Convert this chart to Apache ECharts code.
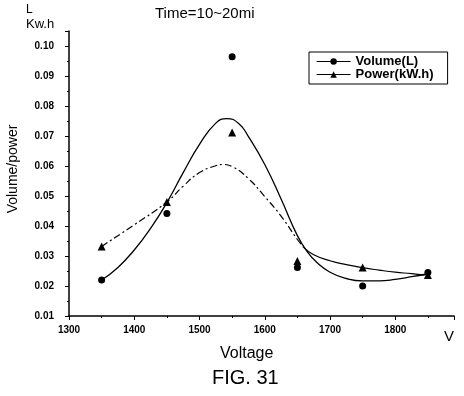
<!DOCTYPE html>
<html>
<head>
<meta charset="utf-8">
<script src="https://cdn.jsdelivr.net/npm/echarts@6/dist/echarts.min.js"></script>
<style>
html,body{margin:0;padding:0;background:#fff;}
#c{width:464px;height:396px;}
</style>
</head>
<body>
<div id="c"></div>
<script>
// ---- data ----
var voltage = [1350, 1450, 1550, 1650, 1750, 1850];
var volume  = [0.0220, 0.0442, 0.0964, 0.0262, 0.0200, 0.0245];
var power   = [0.0332, 0.0480, 0.0712, 0.0283, 0.0262, 0.0237];

// fitted curves
var volFitX = [1350, 1375, 1400, 1425, 1450, 1475, 1500, 1525, 1542, 1560, 1575, 1600, 1625, 1650, 1665, 1680, 1700, 1725, 1750, 1775, 1800, 1825, 1848];
var volFitY = [0.0220, 0.0262, 0.0320, 0.0392, 0.0478, 0.0578, 0.0672, 0.0743, 0.0758, 0.0742, 0.0698, 0.0605, 0.0490, 0.0368, 0.0315, 0.0278, 0.0246, 0.0225, 0.0217, 0.0217, 0.0222, 0.0231, 0.0240];
var powFitX = [1350, 1400, 1450, 1475, 1500, 1525, 1535, 1550, 1575, 1600, 1625, 1650, 1660, 1675, 1700, 1725, 1750, 1775, 1800, 1825, 1845];
var powFitY = [0.0332, 0.0404, 0.0480, 0.0533, 0.0578, 0.0601, 0.0605, 0.0598, 0.0558, 0.0498, 0.0433, 0.0355, 0.0328, 0.0304, 0.0284, 0.0271, 0.0261, 0.0253, 0.0246, 0.0241, 0.0236];
var powDashEnd = 12; // index where the dashed part ends

var xTickLabels = ['1300', '1400', '1500', '1600', '1700', '1800'];
var yTickLabels = ['0.01', '0.02', '0.03', '0.04', '0.05', '0.06', '0.07', '0.08', '0.09', '0.10'];

function pairs(xs, ys) { return xs.map(function (x, i) { return [x, ys[i]]; }); }

var FONT = 'Liberation Sans, Arial, sans-serif';
var chart = echarts.init(document.getElementById('c'), null, {renderer: 'canvas'});
var powFit = pairs(powFitX, powFitY);

function ttl(text, left, top, size, weight) {
  return {text: text, left: left, top: top, padding: 0,
    textStyle: {fontFamily: FONT, fontSize: size, fontWeight: weight, color: '#000'}};
}

chart.setOption({
  animation: false,
  backgroundColor: '#fff',
  title: [
    ttl('Time=10~20mi', 155, 6, 15, 'normal'),
    ttl('L', 26, 4, 12, 'normal'),
    ttl('Kw.h', 26, 18, 13, 'normal'),
    ttl('V', 444, 329, 15, 'normal'),
    ttl('Voltage', 220, 346, 16, 'normal'),
    ttl('FIG. 31', 212, 368, 20, 'normal')
  ],
  graphic: [{
    type: 'text', x: 13, y: 169, rotation: Math.PI / 2,
    style: {text: 'Volume/power', fontFamily: FONT, fontSize: 14, fill: '#000', align: 'center', verticalAlign: 'middle'}
  }],
  legend: {
    data: ['Volume(L)', 'Power(kW.h)'],
    orient: 'vertical',
    left: 309, top: 52,
    borderColor: '#000', borderWidth: 1,
    padding: [3, 14, 3, 7],
    itemWidth: 34, itemHeight: 8, itemGap: 0,
    lineStyle: {width: 1.2, opacity: 1, color: '#000', type: 'solid'},
    textStyle: {fontFamily: FONT, fontSize: 13, fontWeight: 'bold', color: '#000', lineHeight: 11}
  },
  grid: {left: 69, top: 31, width: 385, bottom: 80, containLabel: false},
  xAxis: {
    type: 'value', min: 1300, max: 1890, interval: 100,
    axisLine: {lineStyle: {color: '#000', width: 1.5}},
    axisTick: {show: true, length: 4, lineStyle: {color: '#000'}},
    minorTick: {show: true, splitNumber: 2, length: 2, lineStyle: {color: '#000'}},
    splitLine: {show: false},
    axisLabel: {
      showMaxLabel: false, margin: 9, color: '#000',
      fontFamily: FONT, fontSize: 10, fontWeight: 'bold',
      formatter: function (v) { var i = xTickLabels.indexOf(String(Math.round(v))); return i >= 0 ? xTickLabels[i] : ''; }
    }
  },
  yAxis: {
    type: 'value', min: 0.01, max: 0.105, interval: 0.01,
    axisLine: {show: true, lineStyle: {color: '#000', width: 1.5}},
    axisTick: {show: true, length: 4, lineStyle: {color: '#000'}},
    minorTick: {show: true, splitNumber: 2, length: 2, lineStyle: {color: '#000'}},
    splitLine: {show: false},
    axisLabel: {
      showMaxLabel: false, margin: 15, color: '#000',
      fontFamily: FONT, fontSize: 10, fontWeight: 'bold',
      formatter: function (v) { var s = v.toFixed(2); return yTickLabels.indexOf(s) >= 0 ? s : ''; }
    }
  },
  series: [
    {
      name: 'Volume fit', type: 'line', data: pairs(volFitX, volFitY),
      smooth: 0.5, showSymbol: false, symbol: 'none', silent: true,
      lineStyle: {color: '#000', width: 1.3}
    },
    {
      name: 'Power fit', type: 'line', data: powFit.slice(0, powDashEnd + 1),
      smooth: 0.5, showSymbol: false, symbol: 'none', silent: true,
      lineStyle: {color: '#000', width: 1.2, type: [7, 3, 2, 3]}
    },
    {
      name: 'Power fit 2', type: 'line', data: powFit.slice(powDashEnd),
      smooth: 0.5, showSymbol: false, symbol: 'none', silent: true,
      lineStyle: {color: '#000', width: 1.2}
    },
    {
      name: 'Volume(L)', type: 'line', data: pairs(voltage, volume),
      symbol: 'circle', symbolSize: 7, showSymbol: true,
      itemStyle: {color: '#000'},
      lineStyle: {width: 0, opacity: 0, color: '#000'}
    },
    {
      name: 'Power(kW.h)', type: 'line', data: pairs(voltage, power),
      symbol: 'triangle', symbolSize: 8, showSymbol: true,
      itemStyle: {color: '#000'},
      lineStyle: {width: 0, opacity: 0, color: '#000'}
    }
  ]
});
</script>
</body>
</html>
